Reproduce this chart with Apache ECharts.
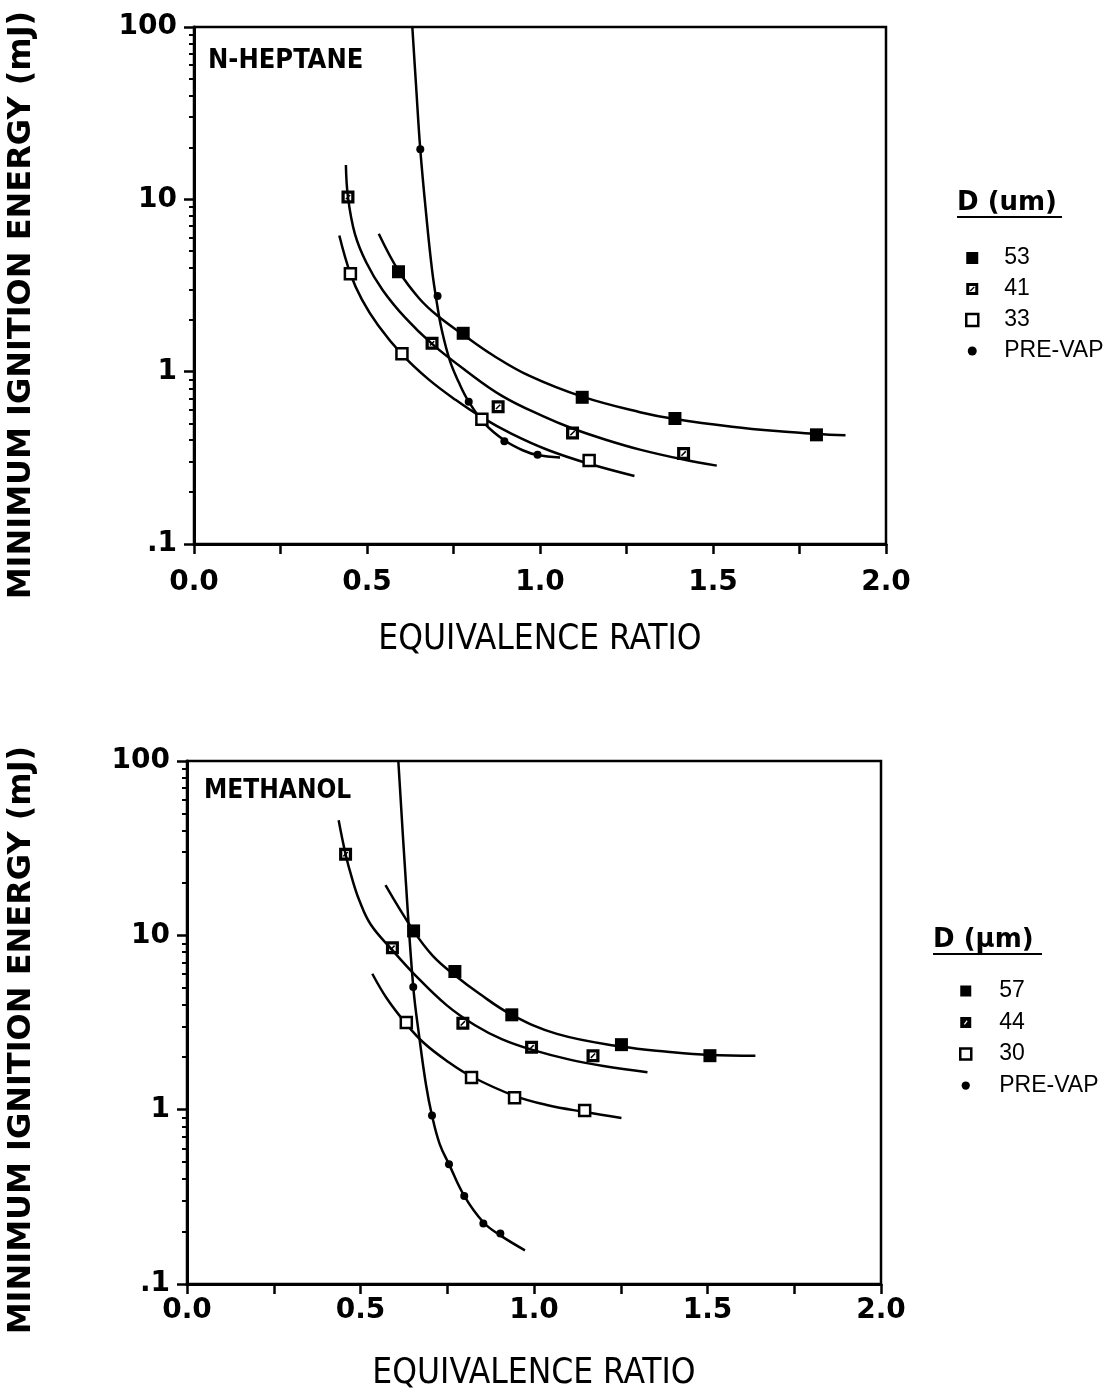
<!DOCTYPE html>
<html>
<head>
<meta charset="utf-8">
<title>Minimum ignition energy</title>
<script src="https://cdn.jsdelivr.net/npm/echarts@6.0.0/dist/echarts.min.js"></script>
<style>
    html, body { margin: 0; padding: 0; background: #fff; }
    #chart { width: 1111px; height: 1394px; }
</style>
</head>
<body>
<div id="chart"></div>
<script>
// tick values
const xLabelValues = [0, 0.5, 1, 1.5, 2];
const yMajorValues = [0.1, 1, 10, 100];
const yMinorValues = [0.2, 0.3, 0.4, 0.5, 0.6, 0.7, 0.8, 0.9, 2, 3, 4, 5, 6, 7, 8, 9, 20, 30, 40, 50, 60, 70, 80, 90];

// n-heptane, measured points [equivalence ratio, mJ]
const heptane53 = [[0.591, 3.8], [0.778, 1.67], [1.122, 0.71], [1.39, 0.535], [1.799, 0.43]];
const heptane41 = [[0.445, 10.3], [0.688, 1.46], [0.879, 0.625], [1.094, 0.44], [1.415, 0.335]];
const heptane33 = [[0.452, 3.7], [0.601, 1.27], [0.832, 0.53], [1.142, 0.305]];
const heptanePreVap = [[0.654, 19.5], [0.704, 2.75], [0.794, 0.67], [0.897, 0.395], [0.993, 0.33]];

// n-heptane, fitted curves
const heptane53Fit = [[0.534, 6.31], [0.591, 3.85], [0.651, 2.66], [0.704, 2.11], [0.778, 1.64], [0.864, 1.245], [0.97, 0.944],
    [1.122, 0.716], [1.289, 0.582], [1.39, 0.531], [1.555, 0.479], [1.7, 0.449], [1.799, 0.435], [1.883, 0.427]];
const heptane41Fit = [[0.439, 15.8], [0.445, 10.3], [0.465, 6.31], [0.498, 4.3], [0.545, 2.98], [0.611, 2.05], [0.688, 1.45],
    [0.784, 1.02], [0.89, 0.724], [1.01, 0.55], [1.094, 0.468], [1.19, 0.403], [1.289, 0.353], [1.415, 0.309], [1.511, 0.285]];
const heptane33Fit = [[0.42, 6.17], [0.452, 3.7], [0.485, 2.63], [0.532, 1.86], [0.601, 1.26], [0.678, 0.902], [0.757, 0.684],
    [0.832, 0.543], [0.917, 0.437], [1.023, 0.351], [1.142, 0.292], [1.273, 0.248]];
const heptanePreVapFit = [[0.631, 100], [0.642, 45], [0.654, 19.5], [0.671, 8.2], [0.688, 3.9], [0.702, 2.5], [0.716, 1.75],
    [0.74, 1.15], [0.765, 0.87], [0.794, 0.67], [0.84, 0.5], [0.897, 0.4], [0.95, 0.35], [0.993, 0.328], [1.058, 0.318]];

// methanol, measured points
const methanol57 = [[0.653, 10.6], [0.772, 6.2], [0.936, 3.5], [1.252, 2.36], [1.507, 2.04]];
const methanol44 = [[0.457, 29.2], [0.592, 8.48], [0.795, 3.13], [0.993, 2.28], [1.17, 2.04]];
const methanol30 = [[0.632, 3.16], [0.82, 1.53], [0.944, 1.17], [1.146, 0.99]];
const methanolPreVap = [[0.652, 5.06], [0.706, 0.925], [0.755, 0.487], [0.799, 0.32], [0.854, 0.222], [0.903, 0.195]];

// methanol, fitted curves
const methanol57Fit = [[0.572, 19.4], [0.653, 10.6], [0.709, 7.6], [0.772, 5.9], [0.841, 4.65], [0.936, 3.5], [1.066, 2.72],
    [1.252, 2.3], [1.384, 2.15], [1.507, 2.06], [1.638, 2.04]];
const methanol44Fit = [[0.437, 45.7], [0.457, 29.2], [0.475, 21.4], [0.497, 15.8], [0.53, 11.5], [0.592, 8.22], [0.656, 5.96],
    [0.748, 3.98], [0.83, 3.05], [0.907, 2.54], [0.993, 2.21], [1.106, 1.93], [1.2, 1.78], [1.327, 1.64]];
const methanol30Fit = [[0.534, 6.02], [0.576, 4.34], [0.632, 3.1], [0.682, 2.42], [0.748, 1.91], [0.82, 1.55], [0.944, 1.2],
    [1.04, 1.06], [1.146, 0.97], [1.252, 0.896]];
const methanolPreVapFit = [[0.609, 100], [0.629, 22.9], [0.652, 5.06], [0.669, 2.65], [0.689, 1.38], [0.706, 0.925], [0.728, 0.637],
    [0.755, 0.487], [0.799, 0.32], [0.854, 0.226], [0.903, 0.19], [0.974, 0.156]];

const chart = echarts.init(document.getElementById("chart"));

const tickFont = 'DejaVu Sans';
const slashSquare = 'path://M0 0H12V12H0Z M3 3V9H9V3Z M7.5 3.5L8.5 4.5L4.5 8.5L3.5 7.5Z';
const darkSlashSquare = 'path://M0 0H12V12H0Z M7 3.5L4 7.5L5 8.5L8 4.5Z';
const smallDot = 'path://M0 0M12 12M6 1.5A4.5 4.5 0 1 1 6 10.5A4.5 4.5 0 1 1 6 1.5Z';

function makeXAxis(gridIndex, labelMargin, nameGap) {
    return {
        type: 'value',
        gridIndex: gridIndex,
        min: 0,
        max: 2,
        interval: 0.25,
        name: 'EQUIVALENCE RATIO',
        nameLocation: 'middle',
        nameGap: nameGap,
        nameTextStyle: {
            color: '#000',
            fontFamily: 'DejaVu Sans Condensed',
            fontSize: 35
        },
        axisLine: {lineStyle: {color: '#000', width: 3}},
        axisTick: {length: 10, lineStyle: {color: '#000', width: 2.5}},
        axisLabel: {
            margin: labelMargin,
            color: '#000',
            fontFamily: tickFont,
            fontWeight: 'bold',
            fontSize: 28,
            formatter: function (v) {
                return xLabelValues.indexOf(v) >= 0 ? v.toFixed(1) : '';
            }
        },
        splitLine: {show: false}
    };
}

function makeYAxes(gridIndex) {
    return [
        {
            type: 'log',
            logBase: 10,
            gridIndex: gridIndex,
            min: 0.1,
            max: 100,
            axisLine: {lineStyle: {color: '#000', width: 3}},
            axisTick: {customValues: yMajorValues, length: 10, lineStyle: {color: '#000', width: 2.5}},
            axisLabel: {
                customValues: yMajorValues,
                margin: 17,
                color: '#000',
                fontFamily: tickFont,
                fontWeight: 'bold',
                fontSize: 28,
                formatter: function (v) {
                    return v < 0.5 ? '.1' : String(Math.round(v));
                }
            },
            splitLine: {show: false}
        },
        {
            // minor ticks only
            type: 'log',
            logBase: 10,
            gridIndex: gridIndex,
            position: 'left',
            min: 0.1,
            max: 100,
            axisLine: {show: false},
            axisTick: {customValues: yMinorValues, length: 5, lineStyle: {color: '#000', width: 2}},
            axisLabel: {show: false},
            splitLine: {show: false}
        }
    ];
}

function fitLine(data, axisIndex) {
    return {
        type: 'line',
        data: data,
        xAxisIndex: axisIndex,
        yAxisIndex: axisIndex * 2,
        smooth: 0.4,
        symbol: 'none',
        silent: true,
        z: 2,
        lineStyle: {color: '#000', width: 2.5}
    };
}

function points(name, data, axisIndex, symbol, size, itemStyle) {
    return {
        name: name,
        type: 'scatter',
        data: data,
        xAxisIndex: axisIndex,
        yAxisIndex: axisIndex * 2,
        symbol: symbol,
        symbolSize: size,
        z: 3,
        itemStyle: itemStyle || {color: '#000', opacity: 1}
    };
}

const openStyle = {color: '#fff', borderColor: '#000', borderWidth: 2.5, opacity: 1};

function legendText(pad) {
    return {
        color: '#000',
        fontFamily: 'Liberation Sans',
        fontSize: 23,
        lineHeight: 30,
        padding: [0, 0, 0, pad]
    };
}

const option = {
    animation: false,
    backgroundColor: '#fff',
    grid: [
        {left: 194, top: 27, width: 692, height: 517, show: true, borderColor: '#000', borderWidth: 2.5},
        {left: 187, top: 761, width: 694, height: 523, show: true, borderColor: '#000', borderWidth: 2.5}
    ],
    xAxis: [makeXAxis(0, 25, 78), makeXAxis(1, 13, 72)],
    yAxis: makeYAxes(0).concat(makeYAxes(1)),
    legend: [
        {
            orient: 'vertical',
            left: 965,
            top: 243,
            padding: 0,
            itemWidth: 12,
            itemHeight: 12,
            itemGap: 1,
            selectedMode: false,
            textStyle: legendText(21),
            data: [
                {name: '53', icon: 'rect'},
                {name: '41', icon: slashSquare},
                {name: '33', icon: 'rect', itemStyle: {color: '#fff', borderColor: '#000', borderWidth: 2.5}},
                {name: 'PRE-VAP', icon: smallDot}
            ]
        },
        {
            orient: 'vertical',
            left: 959,
            top: 976,
            padding: 0,
            itemWidth: 11,
            itemHeight: 11,
            itemGap: 1.5,
            selectedMode: false,
            textStyle: legendText(23),
            data: [
                {name: '57', icon: 'rect'},
                {name: '44', icon: darkSlashSquare},
                {name: '30', icon: 'rect', itemStyle: {color: '#fff', borderColor: '#000', borderWidth: 2.5}},
                {name: 'PRE-VAP', icon: smallDot}
            ]
        }
    ],
    graphic: [
        {
            type: 'text', x: 22, y: 305, rotation: Math.PI / 2,
            style: {text: 'MINIMUM IGNITION ENERGY (mJ)', fill: '#000', align: 'center', verticalAlign: 'middle',
                font: 'bold 32px "DejaVu Sans"'}
        },
        {
            type: 'text', x: 22, y: 1040, rotation: Math.PI / 2,
            style: {text: 'MINIMUM IGNITION ENERGY (mJ)', fill: '#000', align: 'center', verticalAlign: 'middle',
                font: 'bold 32px "DejaVu Sans"'}
        },
        {
            type: 'text', x: 208, y: 61,
            style: {text: 'N-HEPTANE', fill: '#000', verticalAlign: 'middle',
                font: 'bold 27px "DejaVu Sans Condensed", "DejaVu Sans"'}
        },
        {
            type: 'text', x: 204, y: 791,
            style: {text: 'METHANOL', fill: '#000', verticalAlign: 'middle',
                font: 'bold 26px "DejaVu Sans Condensed", "DejaVu Sans"'}
        },
        {
            type: 'text', x: 957, y: 203,
            style: {text: 'D (um)', fill: '#000', verticalAlign: 'middle', font: 'bold 26px "DejaVu Sans"'}
        },
        {type: 'line', shape: {x1: 957, y1: 217, x2: 1062, y2: 217}, style: {stroke: '#000', lineWidth: 2}},
        {
            type: 'text', x: 933, y: 940,
            style: {text: 'D (μm)', fill: '#000', verticalAlign: 'middle', font: 'bold 26px "DejaVu Sans"'}
        },
        {type: 'line', shape: {x1: 933, y1: 954, x2: 1042, y2: 954}, style: {stroke: '#000', lineWidth: 2}}
    ],
    series: [
        fitLine(heptane53Fit, 0),
        fitLine(heptane41Fit, 0),
        fitLine(heptane33Fit, 0),
        fitLine(heptanePreVapFit, 0),
        points('53', heptane53, 0, 'rect', 13),
        points('41', heptane41, 0, slashSquare, 13),
        points('33', heptane33, 0, 'rect', 11, openStyle),
        points('PRE-VAP', heptanePreVap, 0, 'circle', 8),

        fitLine(methanol57Fit, 1),
        fitLine(methanol44Fit, 1),
        fitLine(methanol30Fit, 1),
        fitLine(methanolPreVapFit, 1),
        points('57', methanol57, 1, 'rect', 13),
        points('44', methanol44, 1, slashSquare, 13),
        points('30', methanol30, 1, 'rect', 11, openStyle),
        points('PRE-VAP', methanolPreVap, 1, 'circle', 8)
    ]
};

chart.setOption(option);
</script>
</body>
</html>
